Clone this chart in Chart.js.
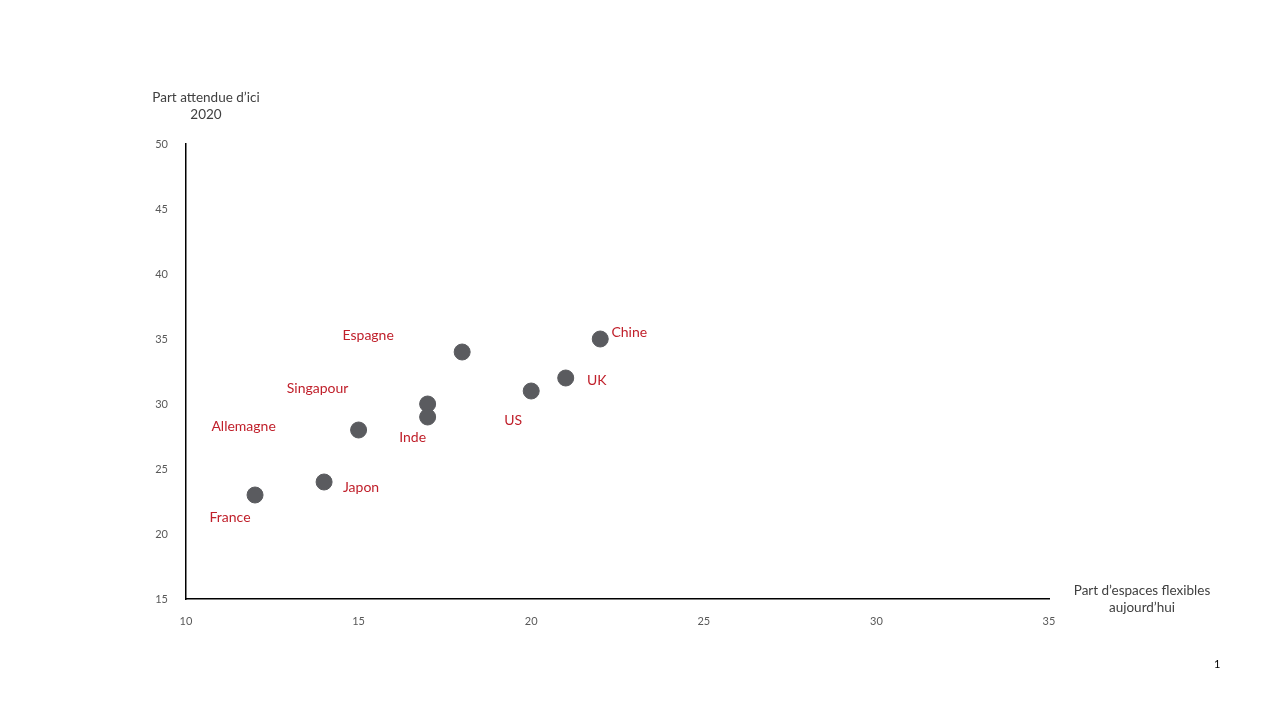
<!DOCTYPE html>
<html>
<head>
<meta charset="utf-8">
<script src="https://cdn.jsdelivr.net/npm/chart.js@4.4.1/dist/chart.umd.min.js"></script>
<style>
  html, body { margin: 0; padding: 0; background: #fff; }
  #wrap { position: relative; width: 1280px; height: 720px; }
  #pageNum { position: absolute; left: 1214px; top: 657px; font: 11px Lato, sans-serif; color: #000; }
</style>
</head>
<body>
<div id="wrap">
  <canvas id="myChart" width="1280" height="720"></canvas>
  <div id="pageNum">1</div>
</div>
<script>
// pays et valeurs
const countries = ["France", "Japon", "Allemagne", "Singapour", "Inde", "Espagne", "US", "UK", "Chine"];
const flexToday = [12, 14, 15, 17, 17, 18, 20, 21, 22];   // part d'espaces flexibles aujourd'hui
const flex2020 = [23, 24, 28, 30, 29, 34, 31, 32, 35];    // part attendue d'ici 2020
const xTicks = [10, 15, 20, 25, 30, 35];
const yTicks = [15, 20, 25, 30, 35, 40, 45, 50];

// décalage des étiquettes par rapport aux points (px)
const labelShift = {
    "France": [-25, 22], "Japon": [37, 5], "Allemagne": [-115, -4],
    "Singapour": [-110, -16], "Inde": [-15, 20], "Espagne": [-94, -17],
    "US": [-18, 29], "UK": [31, 2], "Chine": [29, -7]
};

const FONT = "Lato, 'Open Sans', sans-serif";

const labelPlugin = {
    id: "labels",
    afterDatasetsDraw(chart) {
        const ctx = chart.ctx;
        const meta = chart.getDatasetMeta(0);
        ctx.save();
        ctx.font = "14px " + FONT;
        ctx.fillStyle = "#c0202b";
        ctx.textAlign = "center";
        ctx.textBaseline = "middle";
        meta.data.forEach((pt, i) => {
            const s = labelShift[countries[i]];
            ctx.fillText(countries[i], pt.x + s[0], pt.y + s[1]);
        });

        // titres des axes
        const area = chart.chartArea;
        ctx.fillStyle = "#404040";
        ctx.font = "13.5px " + FONT;
        ctx.fillText("Part attendue d\u2019ici", area.left + 20, 98);
        ctx.fillText("2020", area.left + 20, 115);
        ctx.fillText("Part d\u2019espaces flexibles", area.right + 93, 591);
        ctx.fillText("aujourd\u2019hui", area.right + 93, 608);
        ctx.restore();
    }
};

const ctx = document.getElementById("myChart").getContext("2d");

const chart = new Chart(ctx, {
    type: "scatter",
    data: {
        datasets: [{
            label: "Pays",
            data: flexToday.map((x, i) => ({ x: x, y: flex2020[i] })),
            backgroundColor: "#5a5b5f",
            borderColor: "#5a5b5f",
            pointRadius: 8,
            pointHoverRadius: 8
        }]
    },
    options: {
        responsive: false,
        animation: false,
        layout: { padding: { left: 146, top: 144, right: 231, bottom: 91 } },
        plugins: {
            legend: { display: false },
            tooltip: { enabled: false }
        },
        scales: {
            x: {
                type: "linear",
                min: 10, max: 35,
                afterBuildTicks: s => { s.ticks = xTicks.map(v => ({ value: v })); },
                afterFit: s => { s.height = 30; },
                grid: { display: false },
                border: { display: true, color: "#000", width: 1.5 },
                ticks: { color: "#595959", font: { size: 11, family: FONT }, padding: 8 }
            },
            y: {
                type: "linear",
                min: 15, max: 50,
                afterBuildTicks: s => { s.ticks = yTicks.map(v => ({ value: v })); },
                afterFit: s => { s.width = 40; },
                grid: { display: false },
                border: { display: true, color: "#000", width: 1.5 },
                ticks: { color: "#595959", font: { size: 11, family: FONT }, padding: 10 }
            }
        }
    },
    plugins: [labelPlugin]
});
</script>
</body>
</html>
